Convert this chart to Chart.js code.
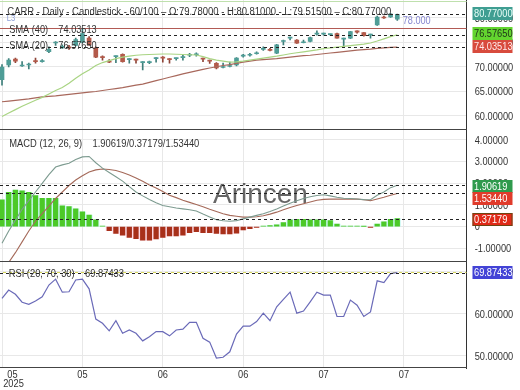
<!DOCTYPE html>
<html><head><meta charset="utf-8">
<script src="https://cdn.jsdelivr.net/npm/chart.js@4.4.1/dist/chart.umd.min.js"></script>
<style>
html,body{margin:0;padding:0;background:#fff;}
body{width:520px;height:390px;overflow:hidden;position:relative;}
canvas{position:absolute;left:0;display:block;}
</style></head><body>
<canvas id="cPrice" width="520" height="130" style="top:0px"></canvas>
<canvas id="cMacd" width="520" height="132" style="top:130px"></canvas>
<canvas id="cRsi" width="520" height="128" style="top:262px"></canvas>
<script>
// ---------- data ----------
const tickPos    = [0, 12, 24, 36, 48, 60];
const tickLabels = ['05', '05', '06', '06', '07', '07'];
const yearLabel  = '2025';

const open  = [67.4,70.4,71.6,70.2,70.4,71.3,71.1,73.1,74.9,73.9,74.1,74.4,75.0,75.9,73.9,72.0,71.1,72.1,72.6,71.5,71.5,70.9,70.9,71.7,72.0,71.7,71.7,71.9,72.4,72.5,71.7,71.3,70.75,69.9,70.1,70.4,72.2,72.4,72.7,73.6,73.5,72.8,75.2,75.9,75.5,74.95,75.2,76.7,76.7,76.6,76.8,75.7,75.9,77.4,77.0,76.5,78.6,80.1,80.2,79.78];
const high  = [70.5,71.7,71.8,71.1,70.8,71.8,71.5,74.1,75.2,74.5,74.4,75.9,77.9,76.2,74.1,72.3,71.5,72.3,72.7,71.7,71.6,71.1,71.2,71.9,72.1,71.7,71.8,72.4,72.8,72.9,71.8,71.4,70.9,70.8,71.0,71.9,72.6,72.8,73.1,74.1,73.8,74.6,75.5,76.1,75.6,75.5,76.1,77.4,76.9,76.7,76.9,75.9,77.3,77.4,77.0,76.7,80.4,80.4,80.95,80.81];
const low   = [66.3,70.0,70.9,70.1,69.6,70.8,71.0,72.9,74.4,73.8,73.6,74.3,74.9,74.4,71.9,71.4,70.9,70.9,71.0,70.8,70.8,69.4,70.7,71.0,71.0,70.8,71.4,71.4,72.1,72.2,71.1,70.75,69.6,69.8,70.0,70.2,72.0,72.2,72.6,73.4,73.3,72.7,74.5,75.5,74.8,74.9,75.1,76.5,76.5,76.5,75.9,74.1,75.8,76.9,76.3,75.9,78.5,79.9,80.1,79.515];
const close = [70.0,71.4,71.2,70.3,70.5,71.1,71.3,73.6,75.0,74.2,73.9,75.6,76.8,74.5,72.0,71.9,71.0,72.2,71.1,71.6,71.4,71.0,71.1,71.8,71.8,71.5,71.8,72.0,72.5,72.5,71.6,71.2,69.8,69.9,70.2,71.8,72.3,72.4,72.8,73.6,73.4,74.5,75.4,76.05,74.85,75.0,76.0,76.9,76.7,76.65,75.9,75.85,77.2,77.1,76.4,76.7,80.2,80.0,80.8,80.77];

const sma20 = [59.9,60.6,61.3,62.0,62.6,63.2,63.8,64.5,65.2,65.8,66.7,67.7,68.6,69.4,70.3,70.9,71.3,71.7,72.0,72.2,72.4,72.5,72.55,72.6,72.65,72.65,72.6,72.55,72.5,72.45,72.1,71.7,71.4,71.2,71.0,71.05,71.2,71.4,71.6,71.8,72.0,72.2,72.45,72.7,72.9,73.1,73.3,73.5,73.75,73.9,74.05,74.2,74.35,74.5,74.65,74.9,75.3,75.75,76.2,76.5765];
const sma40 = [62.9,63.05,63.2,63.35,63.5,63.7,63.9,64.0,64.1,64.25,64.4,64.55,64.7,64.85,65.0,65.2,65.4,65.6,65.8,66.05,66.3,66.5,66.85,67.2,67.55,67.9,68.25,68.6,68.9,69.2,69.5,69.8,70.05,70.3,70.5,70.75,71.0,71.2,71.4,71.5,71.6,71.7,71.85,72.0,72.15,72.3,72.4,72.55,72.7,72.85,73.0,73.15,73.3,73.45,73.55,73.65,73.8,73.9,74.0,74.035];

const macd   = [-0.77,-0.2,0.3,0.8,1.2,1.6,2.0,2.4,2.75,2.85,2.93,3.1,3.22,3.24,2.95,2.7,2.5,2.3,2.1,1.85,1.6,1.42,1.25,1.1,0.98,0.92,0.86,0.82,0.78,0.72,0.58,0.45,0.32,0.27,0.25,0.28,0.36,0.44,0.52,0.6,0.7,0.82,0.95,1.08,1.2,1.3,1.38,1.44,1.47,1.42,1.36,1.31,1.3,1.28,1.25,1.24,1.45,1.6,1.8,1.90619];
const signal = [-2.0,-1.65,-1.2,-0.7,-0.2,0.25,0.6,0.95,1.3,1.6,1.9,2.15,2.35,2.52,2.62,2.66,2.64,2.59,2.5,2.38,2.25,2.1,1.92,1.78,1.62,1.45,1.34,1.22,1.12,1.02,0.92,0.8,0.7,0.6,0.52,0.48,0.44,0.44,0.46,0.5,0.58,0.67,0.78,0.88,0.98,1.06,1.14,1.22,1.26,1.27,1.27,1.27,1.27,1.27,1.24,1.2,1.28,1.36,1.45,1.5344];
const hist   = [1.24,1.58,1.69,1.65,1.58,1.44,1.31,1.31,1.31,0.96,0.93,0.82,0.69,0.54,0.31,0.03,-0.19,-0.31,-0.39,-0.5,-0.55,-0.62,-0.62,-0.57,-0.5,-0.43,-0.43,-0.39,-0.28,-0.23,-0.28,-0.28,-0.31,-0.34,-0.34,-0.3,-0.15,-0.09,-0.03,0.03,0.05,0.08,0.19,0.31,0.34,0.34,0.31,0.31,0.31,0.28,0.12,0.03,0.03,0.03,0.01,-0.03,0.12,0.22,0.34,0.37179];

const rsi = [63.7,65.7,64.7,62.8,62.3,63.1,64.1,66.9,68.3,65.2,65.3,68.1,68.3,66.0,58.8,57.8,56.0,58.4,55.4,56.2,55.4,53.6,54.6,55.8,55.8,54.8,56.2,56.4,58.0,58.0,54.2,53.3,49.5,49.7,51.0,55.2,57.1,57.1,58.2,60.2,58.4,61.7,63.5,65.2,60.2,60.7,62.9,65.2,64.5,64.5,59.4,59.4,63.3,62.1,59.4,60.5,67.9,67.5,69.6,69.87433];

const priceTicks = [60, 65, 70, 75, 80];
const macdTicks  = [-1, 0, 1, 2, 3, 4];
const rsiTicks   = [50, 60, 70];

const lastClose = 80.77, lastSma20 = 76.5765, lastSma40 = 74.03513, levelLine = 78;
const lastMacd = 1.90619, lastHist = 0.37179, lastSignal = 1.53440, lastRsi = 69.87433, rsiUpper = 70;

const titleText = 'CARR - Daily - Candlestick - 60/100 \u2013 O:79.78000 - H:80.81000 - L:79.51500 \u2013 C:80.77000';

// ---------- styling ----------
const FONT = "'Liberation Sans',Arial,sans-serif";
const SX = 0.84;   // horizontal squeeze of the small texts in the reference
const UP = '#4f9d97', DOWN = '#b35a4a', UPW = '#3f7f7b', DOWNW = '#8e4538';
Chart.defaults.font.family = FONT;
Chart.defaults.font.size = 11;
Chart.defaults.color = '#333';
const GRID = '#e8e8e8';
const PLOT_RIGHT_W = 53.3;
const X_MIN = -0.3, X_MAX = 69.36;

const fmt5 = v => (v === 0 ? '0' : v.toFixed(5));
const pts = arr => arr.map((v, i) => ({x: i, y: v}));

function xScale(h) {
  return {
    type: 'linear', min: X_MIN, max: X_MAX, offset: false,
    grid: {color: GRID, drawTicks: false, offset: false},
    border: {display: false},
    ticks: {display: false},
    afterBuildTicks: s => { s.ticks = tickPos.map(v => ({value: v})); },
    afterFit: s => { s.height = h; s.paddingLeft = 0; s.paddingRight = 0; }
  };
}
function yScale(min, max, ticks) {
  return {
    position: 'right', min, max,
    grid: {color: GRID, drawTicks: false},
    border: {display: true, color: '#333', width: 1},
    ticks: {display: false},
    afterBuildTicks: s => { s.ticks = ticks.map(v => ({value: v})); },
    afterFit: s => { s.width = PLOT_RIGHT_W; s.paddingTop = 0; s.paddingBottom = 0; }
  };
}

function text(ctx, str, x, y, o) {
  o = o || {};
  ctx.save();
  ctx.font = o.font || ('11px ' + FONT);
  ctx.fillStyle = o.color || '#333';
  ctx.textBaseline = 'middle';
  ctx.textAlign = o.align || 'left';
  const w = ctx.measureText(str).width;
  const sx = o.width ? o.width / w : (o.sx || SX);
  ctx.translate(x, y);
  ctx.scale(sx, 1);
  ctx.fillText(str, 0, 0);
  ctx.restore();
}

function hline(chart, l) {
  const {ctx, chartArea: a} = chart;
  const y = Math.round(chart.scales.y.getPixelForValue(l.v)) + 0.5;
  ctx.save();
  ctx.beginPath();
  ctx.rect(a.left, a.top, a.right - a.left, a.bottom - a.top);
  ctx.clip();
  ctx.strokeStyle = l.color; ctx.lineWidth = l.w || 1;
  ctx.setLineDash(l.dash || []);
  ctx.lineDashOffset = l.off || 0;
  ctx.beginPath(); ctx.moveTo(a.left, y); ctx.lineTo(a.right, y); ctx.stroke();
  ctx.restore();
}

function overlay(cfg) {
  return {
    id: cfg.id,
    beforeDatasetsDraw(chart) {
      const ctx = chart.ctx;
      if (cfg.watermark) {
        const w = cfg.watermark;
        ctx.save(); ctx.font = w.font; ctx.fillStyle = w.color; ctx.textBaseline = 'alphabetic';
        ctx.fillText(w.text, w.x, w.y); ctx.restore();
      }
      (cfg.under || []).forEach(l => hline(chart, l));
    },
    afterDatasetsDraw(chart) {
      (cfg.lines || []).forEach(l => hline(chart, l));
    },
    afterDraw(chart) {
      const {ctx, chartArea: a} = chart;
      const ys = chart.scales.y;
      ctx.save();
      if (cfg.topLine) {
        ctx.strokeStyle = cfg.topLine; ctx.lineWidth = 1;
        ctx.beginPath(); ctx.moveTo(a.left, a.top + 1.5); ctx.lineTo(a.right, a.top + 1.5); ctx.stroke();
      }
      ctx.strokeStyle = '#444'; ctx.lineWidth = 1;
      ctx.beginPath(); ctx.moveTo(a.left, a.bottom - 0.5); ctx.lineTo(a.right, a.bottom - 0.5); ctx.stroke();
      ctx.restore();
      // y tick labels (from the scale's ticks)
      ys.ticks.forEach(t => {
        text(ctx, fmt5(t.value), a.right + 8, ys.getPixelForValue(t.value) + 0.5);
      });
      // legend texts
      (cfg.texts || []).forEach(t => text(ctx, t.text, t.x, t.y, t));
      // value boxes on the right axis
      (cfg.boxes || []).forEach(b => {
        const y = ys.getPixelForValue(b.v) + (b.dy || 0);
        ctx.save();
        ctx.fillStyle = b.bg;
        ctx.fillRect(472.5, Math.round(y - 6.5), 40, 13);
        if (b.border) { ctx.strokeStyle = b.border; ctx.lineWidth = 1; ctx.strokeRect(473, Math.round(y - 6.5) + 0.5, 39, 12); }
        ctx.restore();
        text(ctx, b.text, 474, y + 0.5, {color: b.fg});
      });
      // x labels
      if (cfg.xlabels) {
        tickPos.forEach((v, i) => {
          let x = chart.scales.x.getPixelForValue(v);
          if (i === 0) x = Math.max(x, 12.5);
          text(ctx, tickLabels[i], x, a.bottom + 7, {align: 'center'});
          if (i === 0) text(ctx, yearLabel, x + 1, a.bottom + 16, {align: 'center'});
        });
      }
    }
  };
}

const common = {
  responsive: false, animation: false, events: [],
  layout: {padding: 0},
  plugins: {legend: {display: false}, tooltip: {enabled: false}}
};

// ---------- price chart ----------
new Chart(document.getElementById('cPrice'), {
  type: 'bar',
  data: {
    datasets: [
      {type: 'line', data: pts(sma20), borderColor: '#a9d483', borderWidth: 1.2, pointRadius: 0, order: 1},
      {type: 'line', data: pts(sma40), borderColor: '#a8685c', borderWidth: 1.2, pointRadius: 0, order: 1},
      {data: open.map((o, i) => ({x: i, y: [low[i], high[i]]})), grouped: false, barThickness: 1,
       backgroundColor: c => close[c.dataIndex] >= open[c.dataIndex] ? UPW : DOWNW, order: 3},
      {data: open.map((o, i) => ({x: i, y: [o, close[i]]})), grouped: false, barThickness: 4, minBarLength: 1,
       backgroundColor: c => close[c.dataIndex] >= open[c.dataIndex] ? UP : DOWN, order: 2}
    ]
  },
  options: Object.assign({}, common, {
    scales: {x: xScale(0), y: yScale(57.14, 83.67, priceTicks)}
  }),
  plugins: [overlay({
    id: 'ovPrice',
    topLine: '#bfe0ad',
    under: [{v: levelLine, color: '#b25a55', w: 1}],
    lines: [
      {v: lastClose, color: '#222', dash: [3, 3]},
      {v: lastSma20, color: '#222', dash: [3, 3]},
      {v: lastSma40, color: '#222', dash: [3, 3]}
    ],
    texts: [
      {text: titleText, x: 7.3, y: 12.5, font: '10px ' + FONT, width: 384},
      {text: 'L3', x: 6.7, y: 18.5, color: '#8d9fd8', font: '9px ' + FONT, width: 8.5},
      {text: 'SMA (40)    ' + lastSma40.toFixed(5), x: 9.3, y: 30, width: 87.4},
      {text: 'SMA (20)    ' + lastSma20.toFixed(5), x: 9.3, y: 46, width: 87.4},
      {text: levelLine.toFixed(3), x: 402.7, y: 20.5, color: '#8585cf', font: '11px ' + FONT, width: 28}
    ],
    boxes: [
      {v: lastClose, text: lastClose.toFixed(5), bg: '#3f9e92', fg: '#eafff9', dy: -1},
      {v: lastSma20, text: lastSma20.toFixed(5), bg: '#63d52f', fg: '#20361a', dy: -1.5},
      {v: lastSma40, text: lastSma40.toFixed(5), bg: '#d84b3d', fg: '#ffeaea', dy: -0.5}
    ]
  })]
});

// ---------- MACD chart ----------
new Chart(document.getElementById('cMacd'), {
  type: 'bar',
  data: {
    datasets: [
      {type: 'line', data: pts(macd), borderColor: '#7d9b90', borderWidth: 1.1, pointRadius: 0, order: 1},
      {type: 'line', data: pts(signal), borderColor: '#a56a5a', borderWidth: 1.1, pointRadius: 0, order: 1},
      {data: pts(hist), grouped: false, barThickness: 6.7,
       backgroundColor: c => hist[c.dataIndex] >= 0 ? 'rgba(175,245,238,0.55)' : 'rgba(255,205,222,0.55)', order: 4},
      {data: pts(hist), grouped: false, barThickness: 4.6,
       backgroundColor: c => hist[c.dataIndex] >= 0 ? '#4cc928' : '#a8301a', order: 3}
    ]
  },
  options: Object.assign({}, common, {
    scales: {x: xScale(0), y: yScale(-1.63, 4.46, macdTicks)}
  }),
  plugins: [overlay({
    id: 'ovMacd',
    watermark: {text: 'Arincen', x: 213, y: 73, font: "28px 'Liberation Sans',Arial,sans-serif", color: 'rgba(75,75,75,0.85)'},
    lines: [
      {v: lastMacd, color: '#222', dash: [3, 3]},
      {v: lastSignal, color: '#222', dash: [3, 3]},
      {v: lastHist, color: '#222', dash: [3, 3]}
    ],
    texts: [
      {text: 'MACD (12, 26, 9)    ' + lastMacd.toFixed(5) + '/' + lastHist.toFixed(5) + '/' + lastSignal.toFixed(5), x: 9.3, y: 13.5, width: 190}
    ],
    boxes: [
      {v: lastMacd, text: lastMacd.toFixed(5), bg: '#2f9a4d', fg: '#ffffff', dy: 1},
      {v: lastSignal, text: lastSignal.toFixed(5), bg: '#e03b2b', fg: '#ffffff', dy: 5.5},
      {v: lastHist, text: lastHist.toFixed(5), bg: '#e02a18', fg: '#ffffff', border: '#6d4512', dy: 0.5}
    ]
  })]
});

// ---------- RSI chart ----------
new Chart(document.getElementById('cRsi'), {
  type: 'line',
  data: {
    datasets: [
      {data: pts(rsi), borderColor: '#6a6ab8', borderWidth: 1.2, pointRadius: 0, tension: 0}
    ]
  },
  options: Object.assign({}, common, {
    scales: {x: xScale(22), y: yScale(47.14, 72.38, rsiTicks)}
  }),
  plugins: [overlay({
    id: 'ovRsi',
    xlabels: true,
    under: [{v: rsiUpper, color: '#d6d65a', w: 1, dash: [3, 3], off: 3}],
    lines: [{v: lastRsi, color: '#222', dash: [3, 3]}],
    texts: [
      {text: 'RSI (20, 70, 30)    ' + lastRsi.toFixed(5), x: 8.7, y: 12, width: 115.3}
    ],
    boxes: [
      {v: lastRsi, text: lastRsi.toFixed(5), bg: '#4343d6', fg: '#ffffff', dy: -0.5}
    ]
  })]
});
</script>
</body></html>
